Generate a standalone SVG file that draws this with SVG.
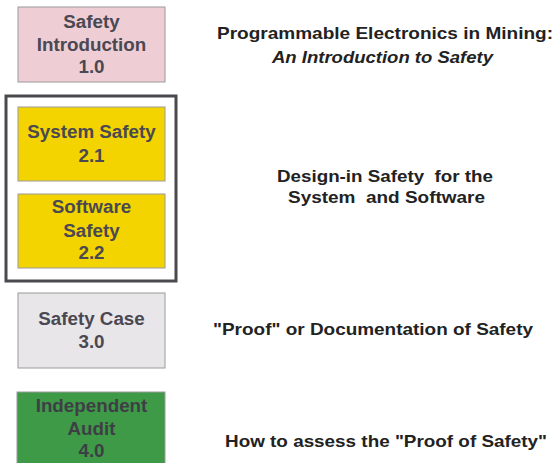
<svg xmlns="http://www.w3.org/2000/svg" width="556" height="463" viewBox="0 0 556 463">
<style>
.box{stroke:#9a9a9a;stroke-width:1}
.bt{font-family:"Liberation Sans",Arial,sans-serif;font-weight:bold;font-size:18.8px;fill:#4a4852;text-anchor:middle}
.rt{font-family:"Liberation Sans",Arial,sans-serif;font-weight:bold;font-size:17px;fill:#222;text-anchor:middle}
</style>
<rect width="556" height="463" fill="#ffffff"/>
<g id="frame">
<rect x="6" y="96" width="170" height="185" fill="none" stroke="#4a4a4e" stroke-width="3"/>
</g>
<g id="node-1">
<rect class="box" x="18" y="7" width="147" height="75" fill="#efcdd4"/>
<text class="bt" x="91.5" y="28">Safety</text>
<text class="bt" x="91.5" y="51">Introduction</text>
<text class="bt" x="91.5" y="73">1.0</text>
</g>
<g id="node-2-1">
<rect class="box" x="18" y="107" width="147" height="74" fill="#f4d400"/>
<text class="bt" x="91.5" y="138">System Safety</text>
<text class="bt" x="91.5" y="162">2.1</text>
</g>
<g id="node-2-2">
<rect class="box" x="18" y="194" width="147" height="74" fill="#f4d400"/>
<text class="bt" x="91.5" y="213">Software</text>
<text class="bt" x="91.5" y="237">Safety</text>
<text class="bt" x="91.5" y="259">2.2</text>
</g>
<g id="node-3">
<rect class="box" x="18" y="293" width="147" height="75" fill="#e8e6e9"/>
<text class="bt" x="91.5" y="325">Safety Case</text>
<text class="bt" x="91.5" y="348">3.0</text>
</g>
<g id="node-4">
<rect class="box" x="17" y="392" width="148" height="75" fill="#3f9a48"/>
<text class="bt" x="91.5" y="412" style="fill:#3d3f45">Independent</text>
<text class="bt" x="91.5" y="435" style="fill:#3d3f45">Audit</text>
<text class="bt" x="91.5" y="457" style="fill:#3d3f45">4.0</text>
</g>
<g id="labels">
<text class="rt" x="385" y="39" textLength="336" lengthAdjust="spacingAndGlyphs">Programmable Electronics in Mining:</text>
<text class="rt" x="382.5" y="63" font-style="italic" textLength="221" lengthAdjust="spacingAndGlyphs">An Introduction to Safety</text>
<text class="rt" x="385" y="182" xml:space="preserve" textLength="216" lengthAdjust="spacingAndGlyphs">Design-in Safety  for the</text>
<text class="rt" x="386.5" y="203" xml:space="preserve" textLength="197" lengthAdjust="spacingAndGlyphs">System  and Software</text>
<text class="rt" x="373" y="335" textLength="320" lengthAdjust="spacingAndGlyphs">"Proof" or Documentation of Safety</text>
<text class="rt" x="386" y="447" textLength="322" lengthAdjust="spacingAndGlyphs">How to assess the "Proof of Safety"</text>
</g>
<g id="connectors"></g>
</svg>
